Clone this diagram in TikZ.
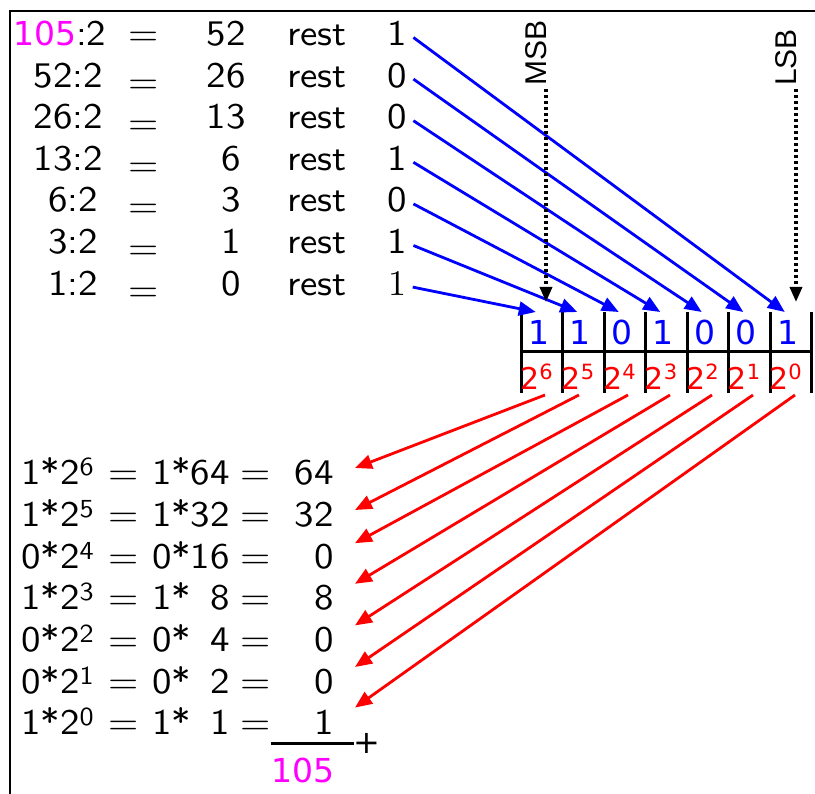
\documentclass[tikz,border=0pt]{standalone}
\usepackage{fontspec}
\newfontfamily\dvs{DejaVu Sans}
\newfontfamily\libs{Liberation Sans}
\newfontfamily\msf{lmsans10-regular.otf}[FakeStretch=1.08]
\newfontfamily\mrf{lmroman10-regular.otf}
\usetikzlibrary{arrows.meta,calc}
\definecolor{mag}{RGB}{255,0,255}
\definecolor{bblue}{RGB}{0,0,255}
\definecolor{rred}{RGB}{255,0,0}
\newcommand{\mainf}{\fontsize{36}{40}\selectfont\msf}
\newcommand{\supx}[1]{\raisebox{9pt}{\fontsize{26}{26}\selectfont\msf #1}}
\begin{document}
\begin{tikzpicture}[x=1pt,y=-1pt,
  mt/.style={inner sep=0pt,font=\mainf},
  bit/.style={inner sep=0pt,anchor=base,text=bblue,font=\fontsize{33}{36}\selectfont\dvs},
  pow/.style={inner sep=0pt,anchor=base west,text=rred,font=\fontsize{30}{33}\selectfont\dvs},
  sb/.style={inner sep=0pt,anchor=base west,rotate=90,font=\fontsize{30}{32}\selectfont\libs},
  barrow/.style={draw=bblue,line width=2.8pt,-{Triangle[length=17pt,width=14pt]}},
  rarrow/.style={draw=rred,line width=2.8pt,-{Triangle[length=17pt,width=14pt]}},
  dotarrow/.style={draw=black,line width=3.4pt,dash pattern=on 3.2pt off 2.8pt,-{Triangle[length=15pt,width=12pt]}},
  tbl/.style={line width=3pt,draw=black},
  frameline/.style={line width=2.6pt,draw=black}]
\useasboundingbox (0,0) rectangle (815,794);
\draw[frameline] (10,800) -- (10,11) -- (820,11);

% ---------- division rows ----------
\node[mt,anchor=base west] (a0) at (13,45.5) {{\fontsize{33}{36}\selectfont\dvs\color{mag}105}:2};
\node[mt,anchor=base east] (a1) at (103,87.1) {52:2};
\node[mt,anchor=base east] (a2) at (103,128.7) {26:2};
\node[mt,anchor=base east] (a3) at (103,170.3) {13:2};
\node[mt,anchor=base east] (a4) at (98,211.9) {6:2};
\node[mt,anchor=base east] (a5) at (98,253.5) {3:2};
\node[mt,anchor=base east] (a6) at (98,295.1) {1:2};

\node[mt,anchor=base] (e0) at (144,45.5) {=};
\foreach \i/\y in {1/87.1,2/128.7,3/170.3,4/211.9,5/253.5,6/295.1}
  \node[mt,anchor=base] (e\i) at (144,\y+6) {=};

\node[mt,anchor=base east] (q0) at (246,45.5) {52};
\node[mt,anchor=base east] (q1) at (246,87.1) {26};
\node[mt,anchor=base east] (q2) at (246,128.7) {13};
\node[mt,anchor=base] (q3) at (231,170.3) {6};
\node[mt,anchor=base] (q4) at (231,211.9) {3};
\node[mt,anchor=base] (q5) at (231,253.5) {1};
\node[mt,anchor=base] (q6) at (231,295.1) {0};

\foreach \i/\y in {0/45.5,1/87.1,2/128.7,3/170.3,4/211.9,5/253.5,6/295.1}
  \node[mt,anchor=base west] (s\i) at (287,\y) {rest};

\node[mt,anchor=base] (r0) at (397.5,45.5) {1};
\node[mt,anchor=base] (r1) at (397.5,87.1) {0};
\node[mt,anchor=base] (r2) at (397.5,128.7) {0};
\node[mt,anchor=base] (r3) at (397.5,170.3) {1};
\node[mt,anchor=base] (r4) at (397.5,211.9) {0};
\node[mt,anchor=base] (r5) at (397.5,253.5) {1};
\node[mt,anchor=base,font=\fontsize{36}{40}\selectfont\mrf] (r6) at (397.5,295.1) {1};

% ---------- table ----------
\foreach \k in {0,...,7}
  \draw[tbl] ({521+41.5*\k},312) -- ({521+41.5*\k},393);
\draw[tbl] (521,352) -- (811.5,352);

\foreach \k/\v in {1/1,2/1,3/0,4/1,5/0,6/0,7/1}
  \node[bit] (b\k) at ({541.75+41.5*(\k-1)-3},345) {\v};

\foreach \k/\e in {1/6,2/5,3/4,4/3,5/2,6/1,7/0}
  \node[pow] (p\k) at ({520+41.5*(\k-1)},390) {2\raisebox{10pt}{\fontsize{21}{21}\selectfont\e}};

% ---------- blue arrows ----------
\foreach \i in {0,...,6}{
  \pgfmathtruncatemacro\k{7-\i}
  \draw[barrow] ($(r\i.base east)+(6,-8)$) -- ($(b\k.base)+(-3,-33)$);
}

% ---------- MSB / LSB ----------
\node[sb] (msb) at (546,86) {MSB};
\node[sb] (lsb) at (796,86) {LSB};
\coordinate (msbtip) at (546,302);
\coordinate (lsbtip) at (796,302);
\draw[dotarrow] ($(msb.base west)+(0,3)$) -- (msbtip);
\draw[dotarrow] ($(lsb.base west)+(0,3)$) -- (lsbtip);

% ---------- sum rows ----------
\node[mt,anchor=base west] (l0) at (21,485) {1*2\supx{6}};
\node[mt,anchor=base west] (l1) at (21,526.6) {1*2\supx{5}};
\node[mt,anchor=base west] (l2) at (21,568.2) {0*2\supx{4}};
\node[mt,anchor=base west] (l3) at (21,609.8) {1*2\supx{3}};
\node[mt,anchor=base west] (l4) at (21,651.4) {0*2\supx{2}};
\node[mt,anchor=base west] (l5) at (21,693) {0*2\supx{1}};
\node[mt,anchor=base west] (l6) at (21,734.6) {1*2\supx{0}};

\foreach \j/\y in {0/485,1/526.6,2/568.2,3/609.8,4/651.4,5/693,6/734.6}{
  \node[mt,anchor=base] (f\j) at (124,\y) {=};
  \node[mt,anchor=base] (g\j) at (256,\y) {=};
}

\node[mt,anchor=base east] (m0) at (230,485) {1*64};
\node[mt,anchor=base east] (m1) at (230,526.6) {1*32};
\node[mt,anchor=base east] (m2) at (230,568.2) {0*16};
\node[mt,anchor=base east] (m3) at (230,609.8) {1*\hphantom{0}8};
\node[mt,anchor=base east] (m4) at (230,651.4) {0*\hphantom{0}4};
\node[mt,anchor=base east] (m5) at (230,693) {0*\hphantom{0}2};
\node[mt,anchor=base east] (m6) at (230,734.6) {1*\hphantom{0}1};

\node[mt,anchor=base east] (v0) at (334,485) {64};
\node[mt,anchor=base east] (v1) at (334,526.6) {32};
\node[mt,anchor=base east] (v2) at (334,568.2) {0};
\node[mt,anchor=base east] (v3) at (334,609.8) {8};
\node[mt,anchor=base east] (v4) at (334,651.4) {0};
\node[mt,anchor=base east] (v5) at (334,693) {0};
\node[mt,anchor=base east] (v6) at (334,734.6) {1};

% ---------- red arrows ----------
\foreach \k/\dx/\dy in {1/25/-17,2/17.5/-16.6,3/25/-25,4/25.5/-26,5/26/-26,6/25.5/-26,7/26/-27}{
  \pgfmathtruncatemacro\j{\k-1}
  \draw[rarrow] ($(p\k.base west)+(\dx,5)$) -- ($(v\j.base east)+(21,\dy)$);
}

% ---------- total ----------
\coordinate (sumL) at (271,743);
\coordinate (sumR) at (354,743);
\draw[tbl] (sumL) -- (sumR);
\node[inner sep=0pt,font=\fontsize{32}{36}\selectfont\dvs] (plus) at (367,743) {+};
\node[inner sep=0pt,anchor=base,text=mag,font=\fontsize{33}{36}\selectfont\dvs] (tot) at (303,782) {105};
\end{tikzpicture}
\end{document}
